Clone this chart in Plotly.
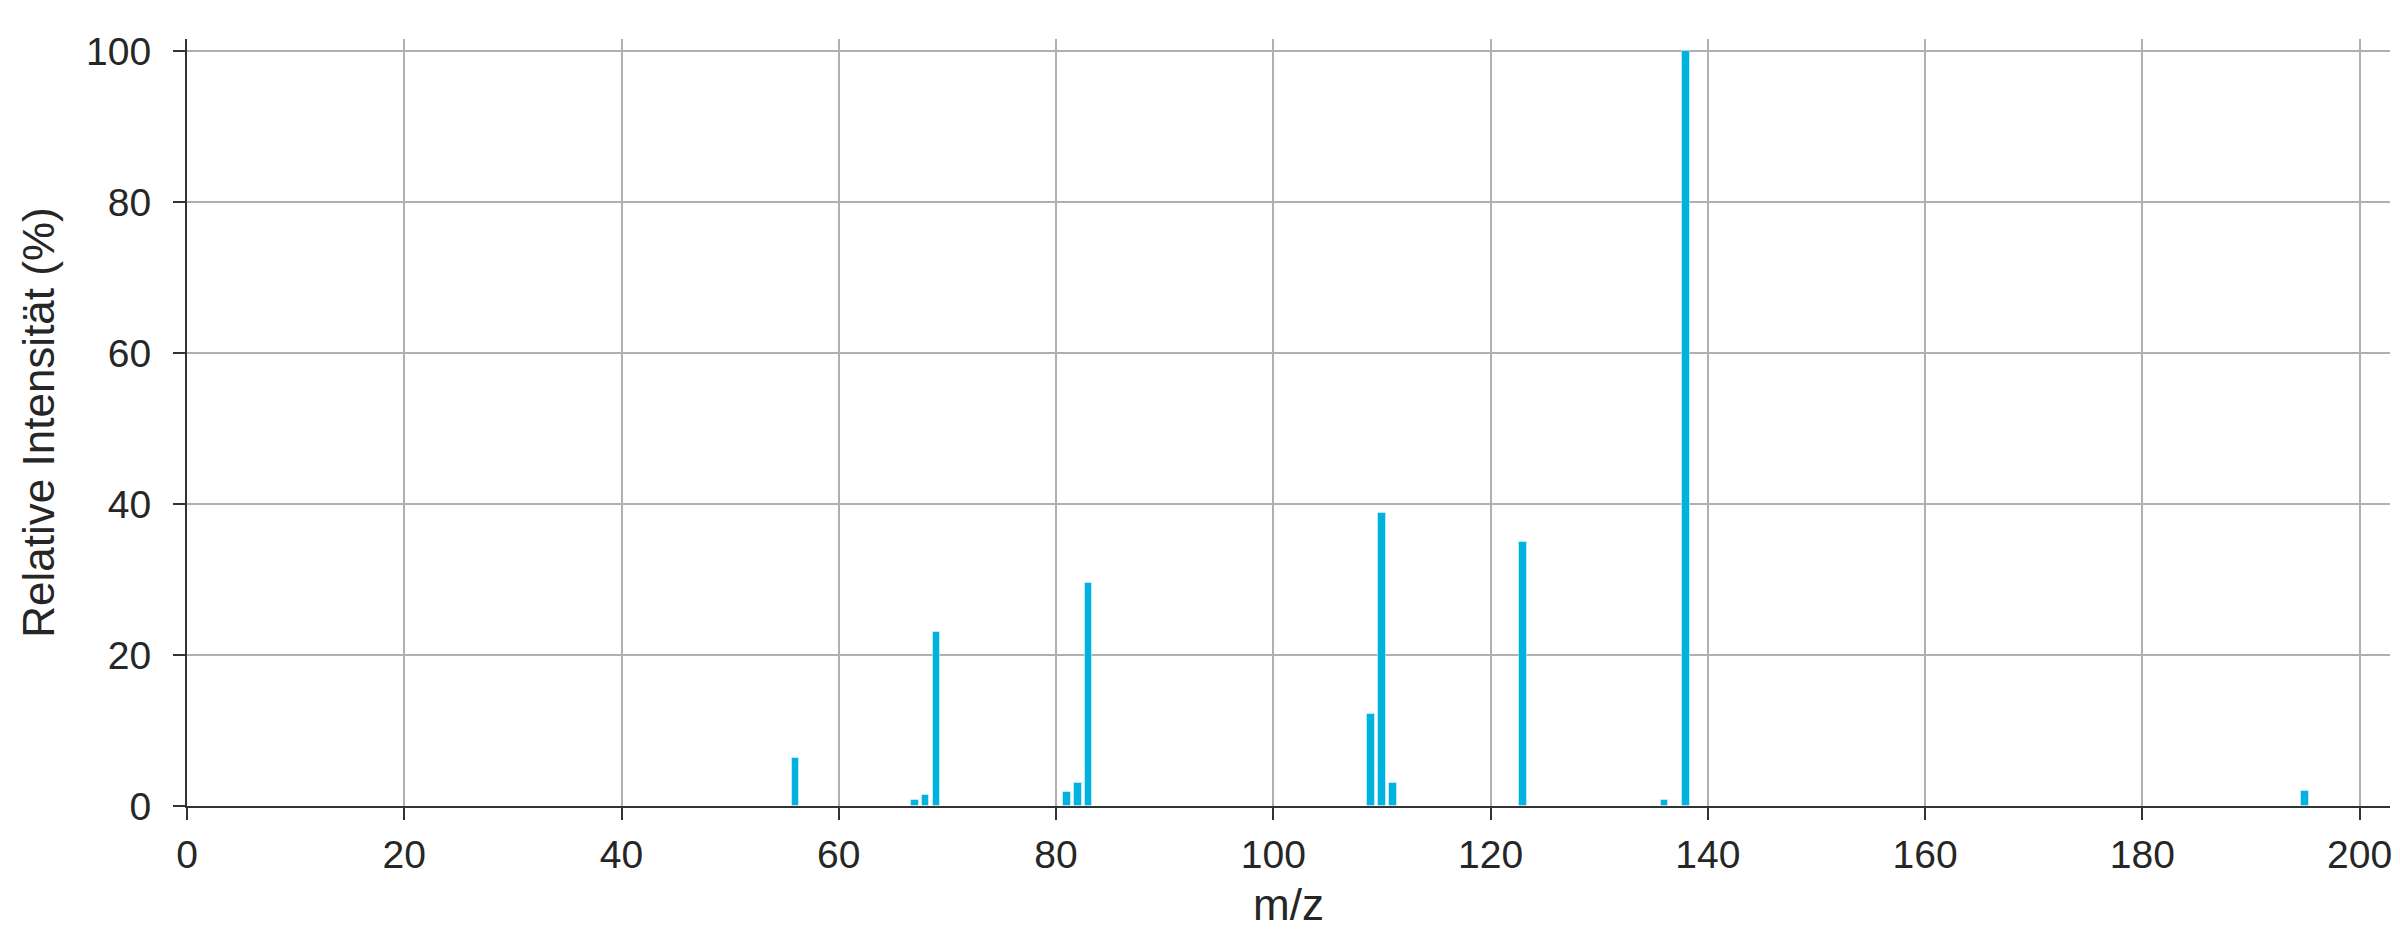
import plotly.graph_objects as go

mz = [56, 67, 68, 69, 81, 82, 83, 109, 110, 111, 123, 136, 138, 195]
intensity = [6.3, 0.8, 1.4, 23.1, 1.9, 3.0, 29.6, 12.2, 38.8, 3.0, 35.0, 0.8, 100, 2.0]
x_ticks = [0, 20, 40, 60, 80, 100, 120, 140, 160, 180, 200]
y_ticks = [0, 20, 40, 60, 80, 100]

FONT = "Liberation Sans"
TXT = "#262626"
TICK_SIZE = 39
TITLE_SIZE = 44

fig = go.Figure()
fig.add_trace(go.Bar(
    x=mz, y=intensity, width=0.7,
    marker=dict(color="#00B2DD", line=dict(color="rgba(255,255,255,0.45)", width=1)),
    showlegend=False,
))

fig.update_layout(
    width=2400, height=940,
    margin=dict(l=179, r=18, t=31, b=142),
    paper_bgcolor="white", plot_bgcolor="white",
    font=dict(family=FONT, size=TICK_SIZE, color=TXT),
    bargap=0,
)
fig.update_xaxes(
    range=[0, 202.8], tickvals=x_ticks, ticktext=[str(v) for v in x_ticks],
    showgrid=True, gridcolor="#b0b0b0", gridwidth=1.5,
    showline=True, linecolor="#333333", linewidth=2,
    ticks="outside", ticklen=12, tickwidth=2, tickcolor="#333333",
    ticklabelstandoff=1,
    tickfont=dict(family=FONT, size=TICK_SIZE, color=TXT),
    title=dict(text="m/z", font=dict(family=FONT, size=TITLE_SIZE, color=TXT), standoff=14),
    zeroline=False,
)
fig.update_yaxes(
    range=[0, 101.6], tickvals=y_ticks, ticktext=[str(v) for v in y_ticks],
    showgrid=True, gridcolor="#b0b0b0", gridwidth=1.5,
    showline=True, linecolor="#333333", linewidth=2,
    ticks="outside", ticklen=12, tickwidth=2, tickcolor="#333333",
    ticklabelstandoff=14,
    tickfont=dict(family=FONT, size=TICK_SIZE, color=TXT),
    title=dict(text="Relative Intensität (%)", font=dict(family=FONT, size=TITLE_SIZE, color=TXT), standoff=18),
    zeroline=False,
)

fig.write_html("out.html")
